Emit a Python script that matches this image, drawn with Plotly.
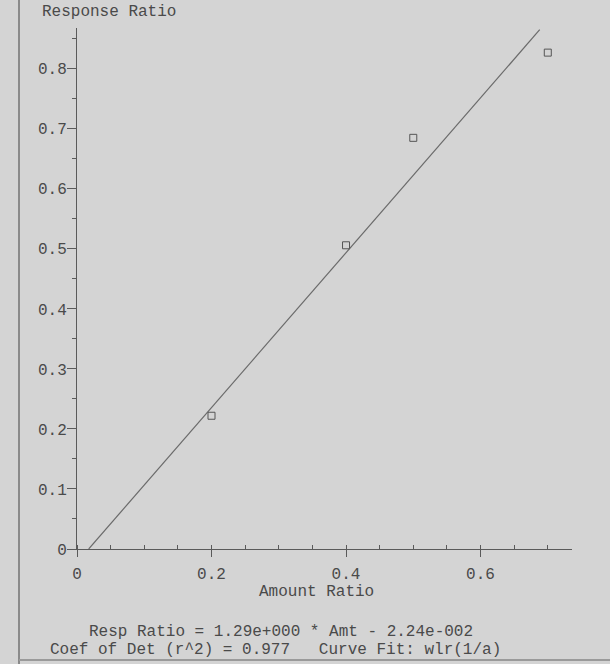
import plotly.graph_objects as go

# ---- data ----
amount_ratio = [0.2, 0.4, 0.5, 0.7]
response_ratio = [0.222, 0.506, 0.685, 0.827]
fit_slope = 1.29
fit_intercept = -0.0224
fit_x_span = [0.0174, 0.688]
x_ticks = [0, 0.2, 0.4, 0.6]
x_tick_labels = ["0", "0.2", "0.4", "0.6"]
y_ticks = [0, 0.1, 0.2, 0.3, 0.4, 0.5, 0.6, 0.7, 0.8]
y_tick_labels = ["0", "0.1", "0.2", "0.3", "0.4", "0.5", "0.6", "0.7", "0.8"]
eq_line = "Resp Ratio = 1.29e+000 * Amt - 2.24e-002"
det_line = "Coef of Det (r^2) = 0.977\u00a0\u00a0\u00a0Curve Fit: wlr(1/a)"

fit_y = [fit_slope * x + fit_intercept for x in fit_x_span]

W, H = 610, 664
L, R, T, B = 77, 38, 28, 115
FONT = "Liberation Mono, Courier New, monospace"
TXT = "#4a4a4a"
AX = "#5a5a5a"
BG = "#d4d4d4"

fig = go.Figure()
fig.add_trace(go.Scatter(x=fit_x_span, y=fit_y, mode="lines",
                         line=dict(color="#6a6a6a", width=1.2), hoverinfo="skip"))
fig.add_trace(go.Scatter(x=amount_ratio, y=response_ratio, mode="markers",
                         marker=dict(symbol="square-open", size=7,
                                     color="#555555", line=dict(width=1))))

fig.update_layout(
    width=W, height=H,
    margin=dict(l=L, r=R, t=T, b=B, pad=0),
    paper_bgcolor=BG, plot_bgcolor=BG,
    showlegend=False,
    font=dict(family=FONT, size=16, color=TXT),
    xaxis=dict(range=[0, 0.736], tickvals=x_ticks, ticktext=x_tick_labels,
               showgrid=False, zeroline=False, showline=True, linecolor=AX,
               linewidth=1, ticks="outside", ticklen=7, tickcolor=AX,
               tickfont=dict(family=FONT, size=16, color=TXT),
               ticklabelstandoff=3,
               minor=dict(dtick=0.05, tick0=0, ticks="inside", ticklen=4,
                          tickcolor=AX, showgrid=False)),
    yaxis=dict(range=[0, 0.868], tickvals=y_ticks, ticktext=y_tick_labels,
               showgrid=False, zeroline=False, showline=True, linecolor=AX,
               linewidth=1, ticks="outside", ticklen=9, tickcolor=AX,
               tickfont=dict(family=FONT, size=16, color=TXT),
               ticklabelstandoff=-3,
               minor=dict(dtick=0.05, tick0=0, ticks="outside", ticklen=4,
                          tickcolor=AX, showgrid=False)),
)

def px(xp):
    return (xp - L) / (W - L - R)

def py(yp):
    return (H - B - yp) / (H - T - B)

ann = [
    dict(text="Response Ratio", x=px(40), y=py(12), xanchor="left", yanchor="middle"),
    dict(text="Amount Ratio", x=px(316), y=py(592), xanchor="center", yanchor="middle"),
    dict(text=eq_line, x=px(87), y=py(632), xanchor="left", yanchor="middle"),
    dict(text=det_line, x=px(48), y=py(650), xanchor="left", yanchor="middle"),
]
for a in ann:
    a.update(xref="paper", yref="paper", showarrow=False,
             font=dict(family=FONT, size=16, color=TXT))
fig.update_layout(annotations=ann)

# frame edges of the scanned window
fig.add_shape(type="line", xref="paper", yref="paper", x0=px(19), x1=px(19),
              y0=py(0), y1=py(664), line=dict(color="#8a8a8a", width=2))
fig.add_shape(type="line", xref="paper", yref="paper", x0=px(19), x1=px(610),
              y0=py(660), y1=py(660), line=dict(color="#9a9a9a", width=2))

fig.write_html("out.html",
               config={"displayModeBar": False},
               post_script="document.body.style.margin='0';document.body.style.overflow='hidden';")
